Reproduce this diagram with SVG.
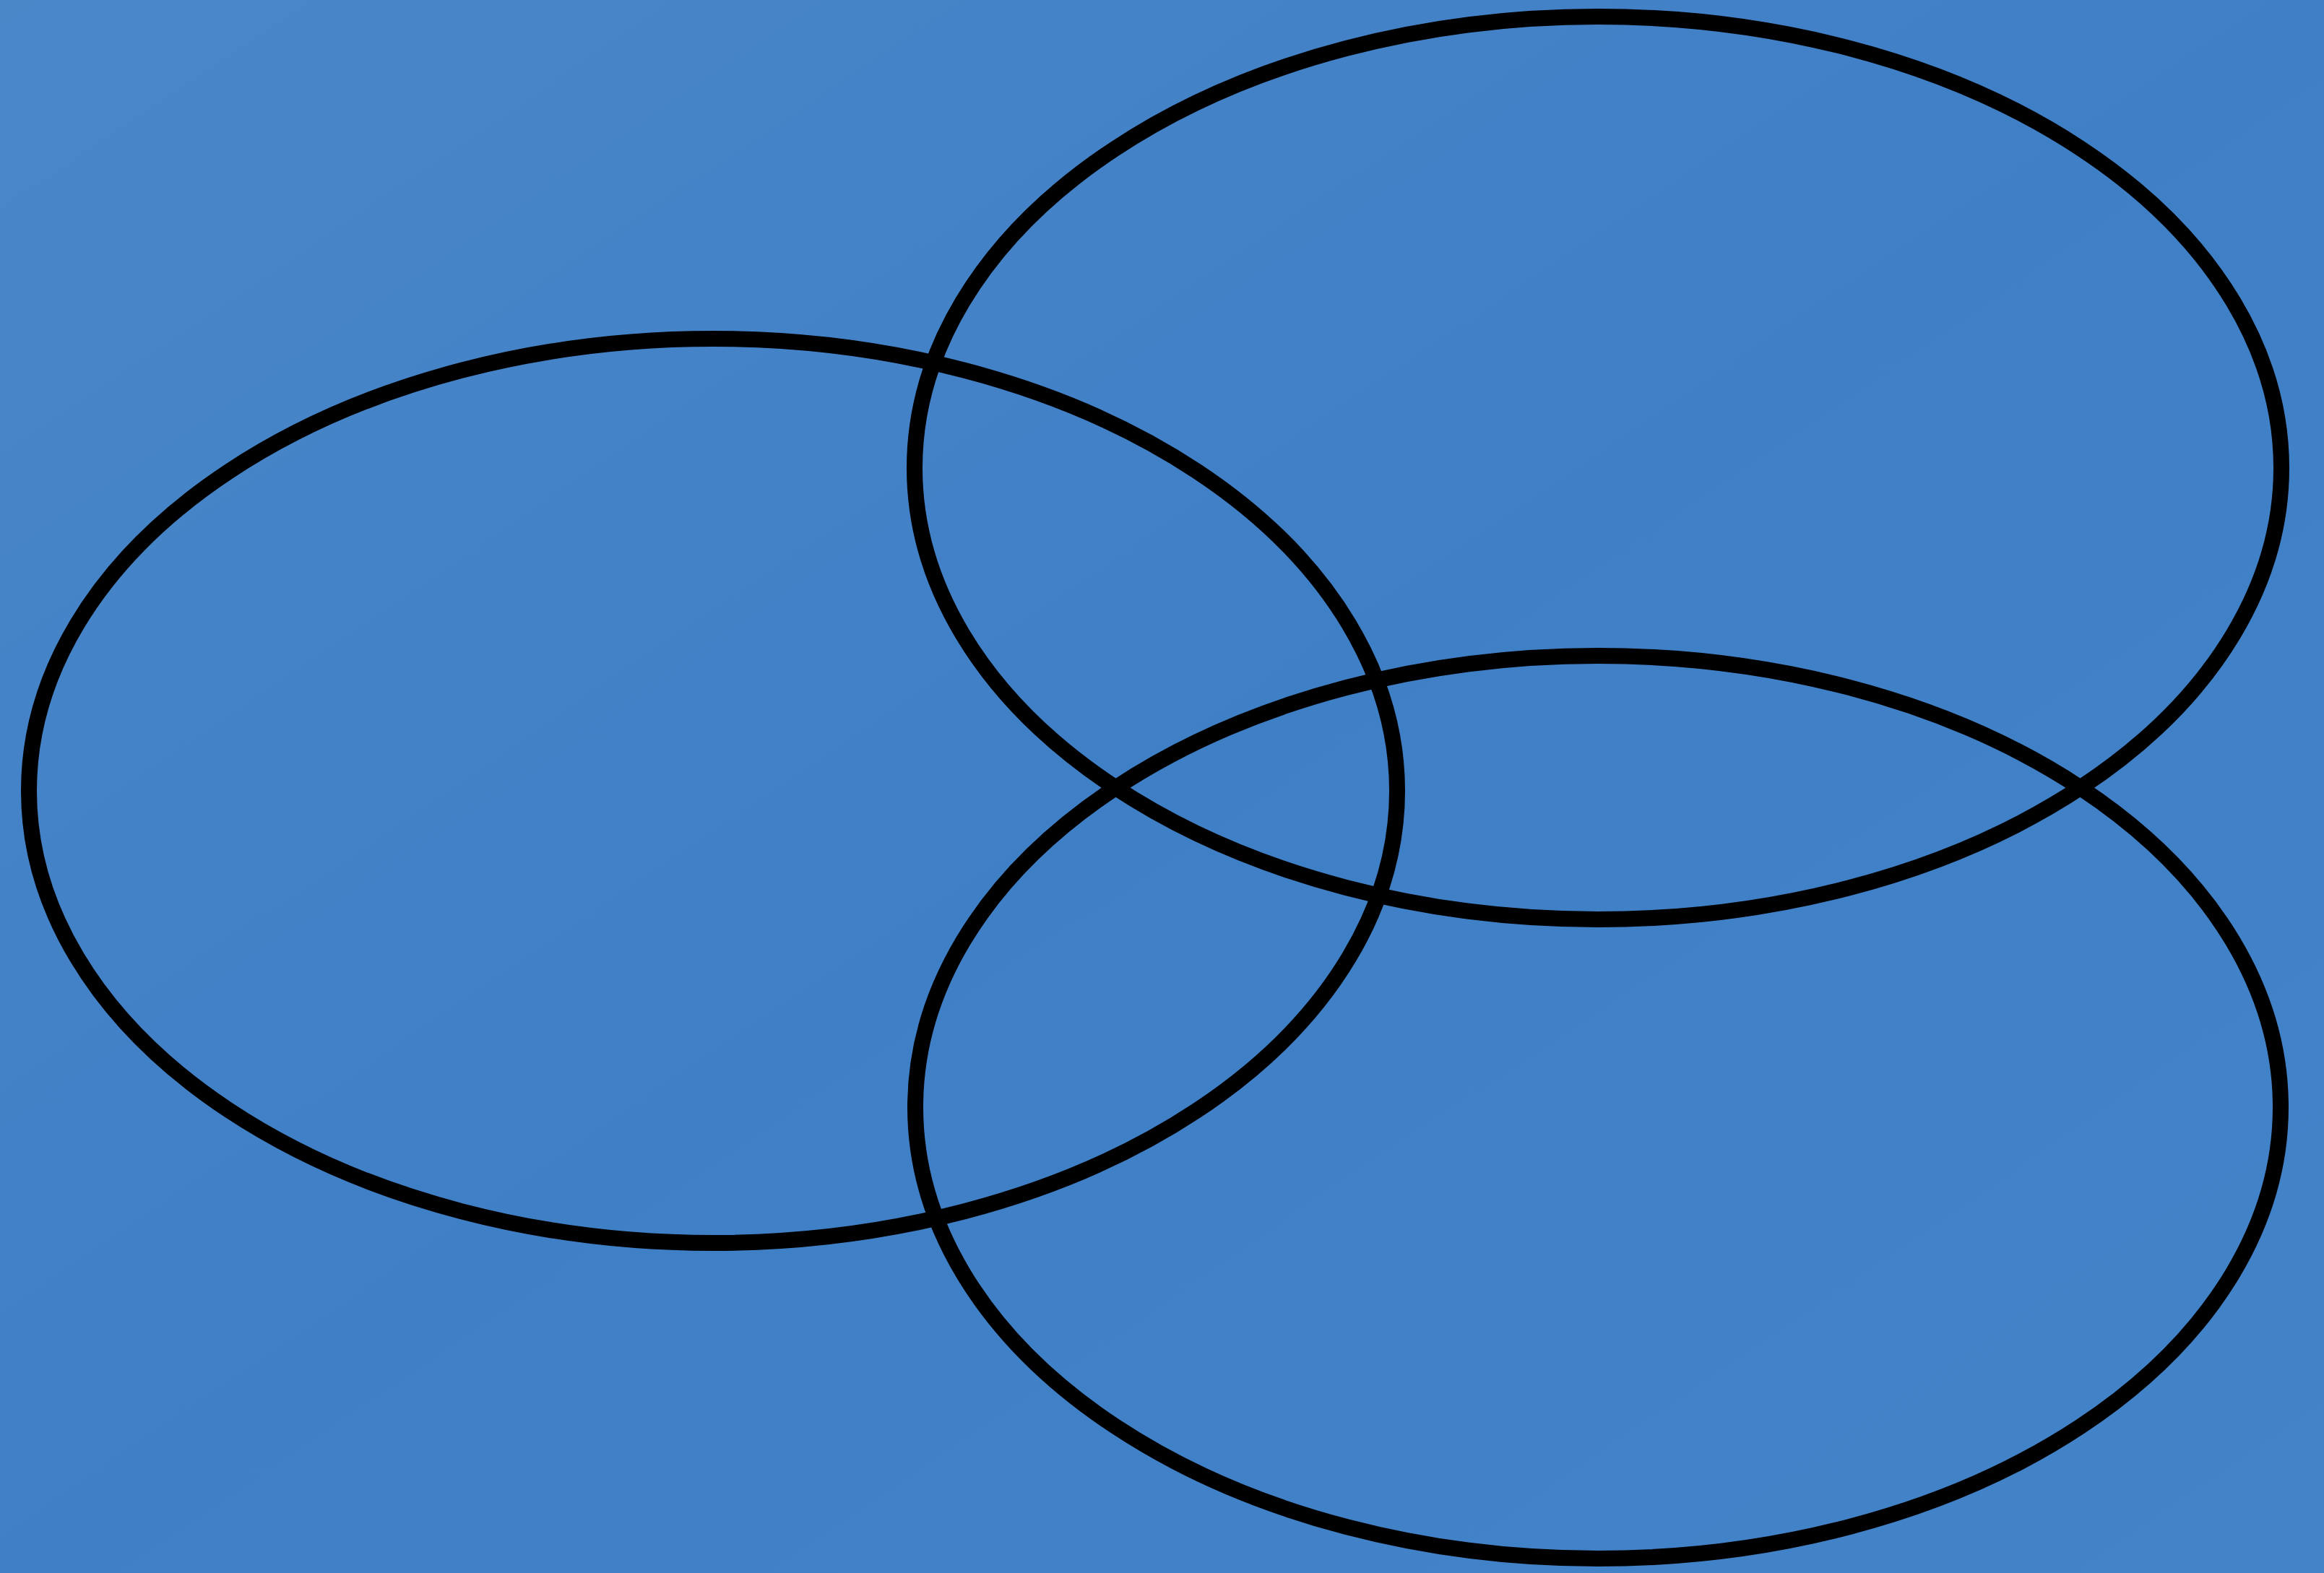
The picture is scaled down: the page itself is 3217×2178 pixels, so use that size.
<svg xmlns="http://www.w3.org/2000/svg" width="3217" height="2178" viewBox="0 0 3217 2178">
  <defs>
    <linearGradient id="bg" x1="0" y1="0" x2="1" y2="1">
      <stop offset="0" stop-color="#4a87c9"/>
      <stop offset="0.5" stop-color="#3f7fc6"/>
      <stop offset="1" stop-color="#4383c8"/>
    </linearGradient>
  </defs>
  <style>
    .ring { fill: none; stroke: #000000; stroke-width: 22; }
  </style>
  <rect x="0" y="0" width="3217" height="2178" fill="url(#bg)"/>
  <g id="ellipse-left">
    <ellipse class="ring" cx="987" cy="1095" rx="947" ry="626"/>
  </g>
  <g id="ellipse-top-right">
    <ellipse class="ring" cx="2212" cy="648" rx="946" ry="625"/>
  </g>
  <g id="ellipse-bottom-right">
    <ellipse class="ring" cx="2212" cy="1533" rx="945" ry="625"/>
  </g>
  <g id="connectors"></g>
</svg>
